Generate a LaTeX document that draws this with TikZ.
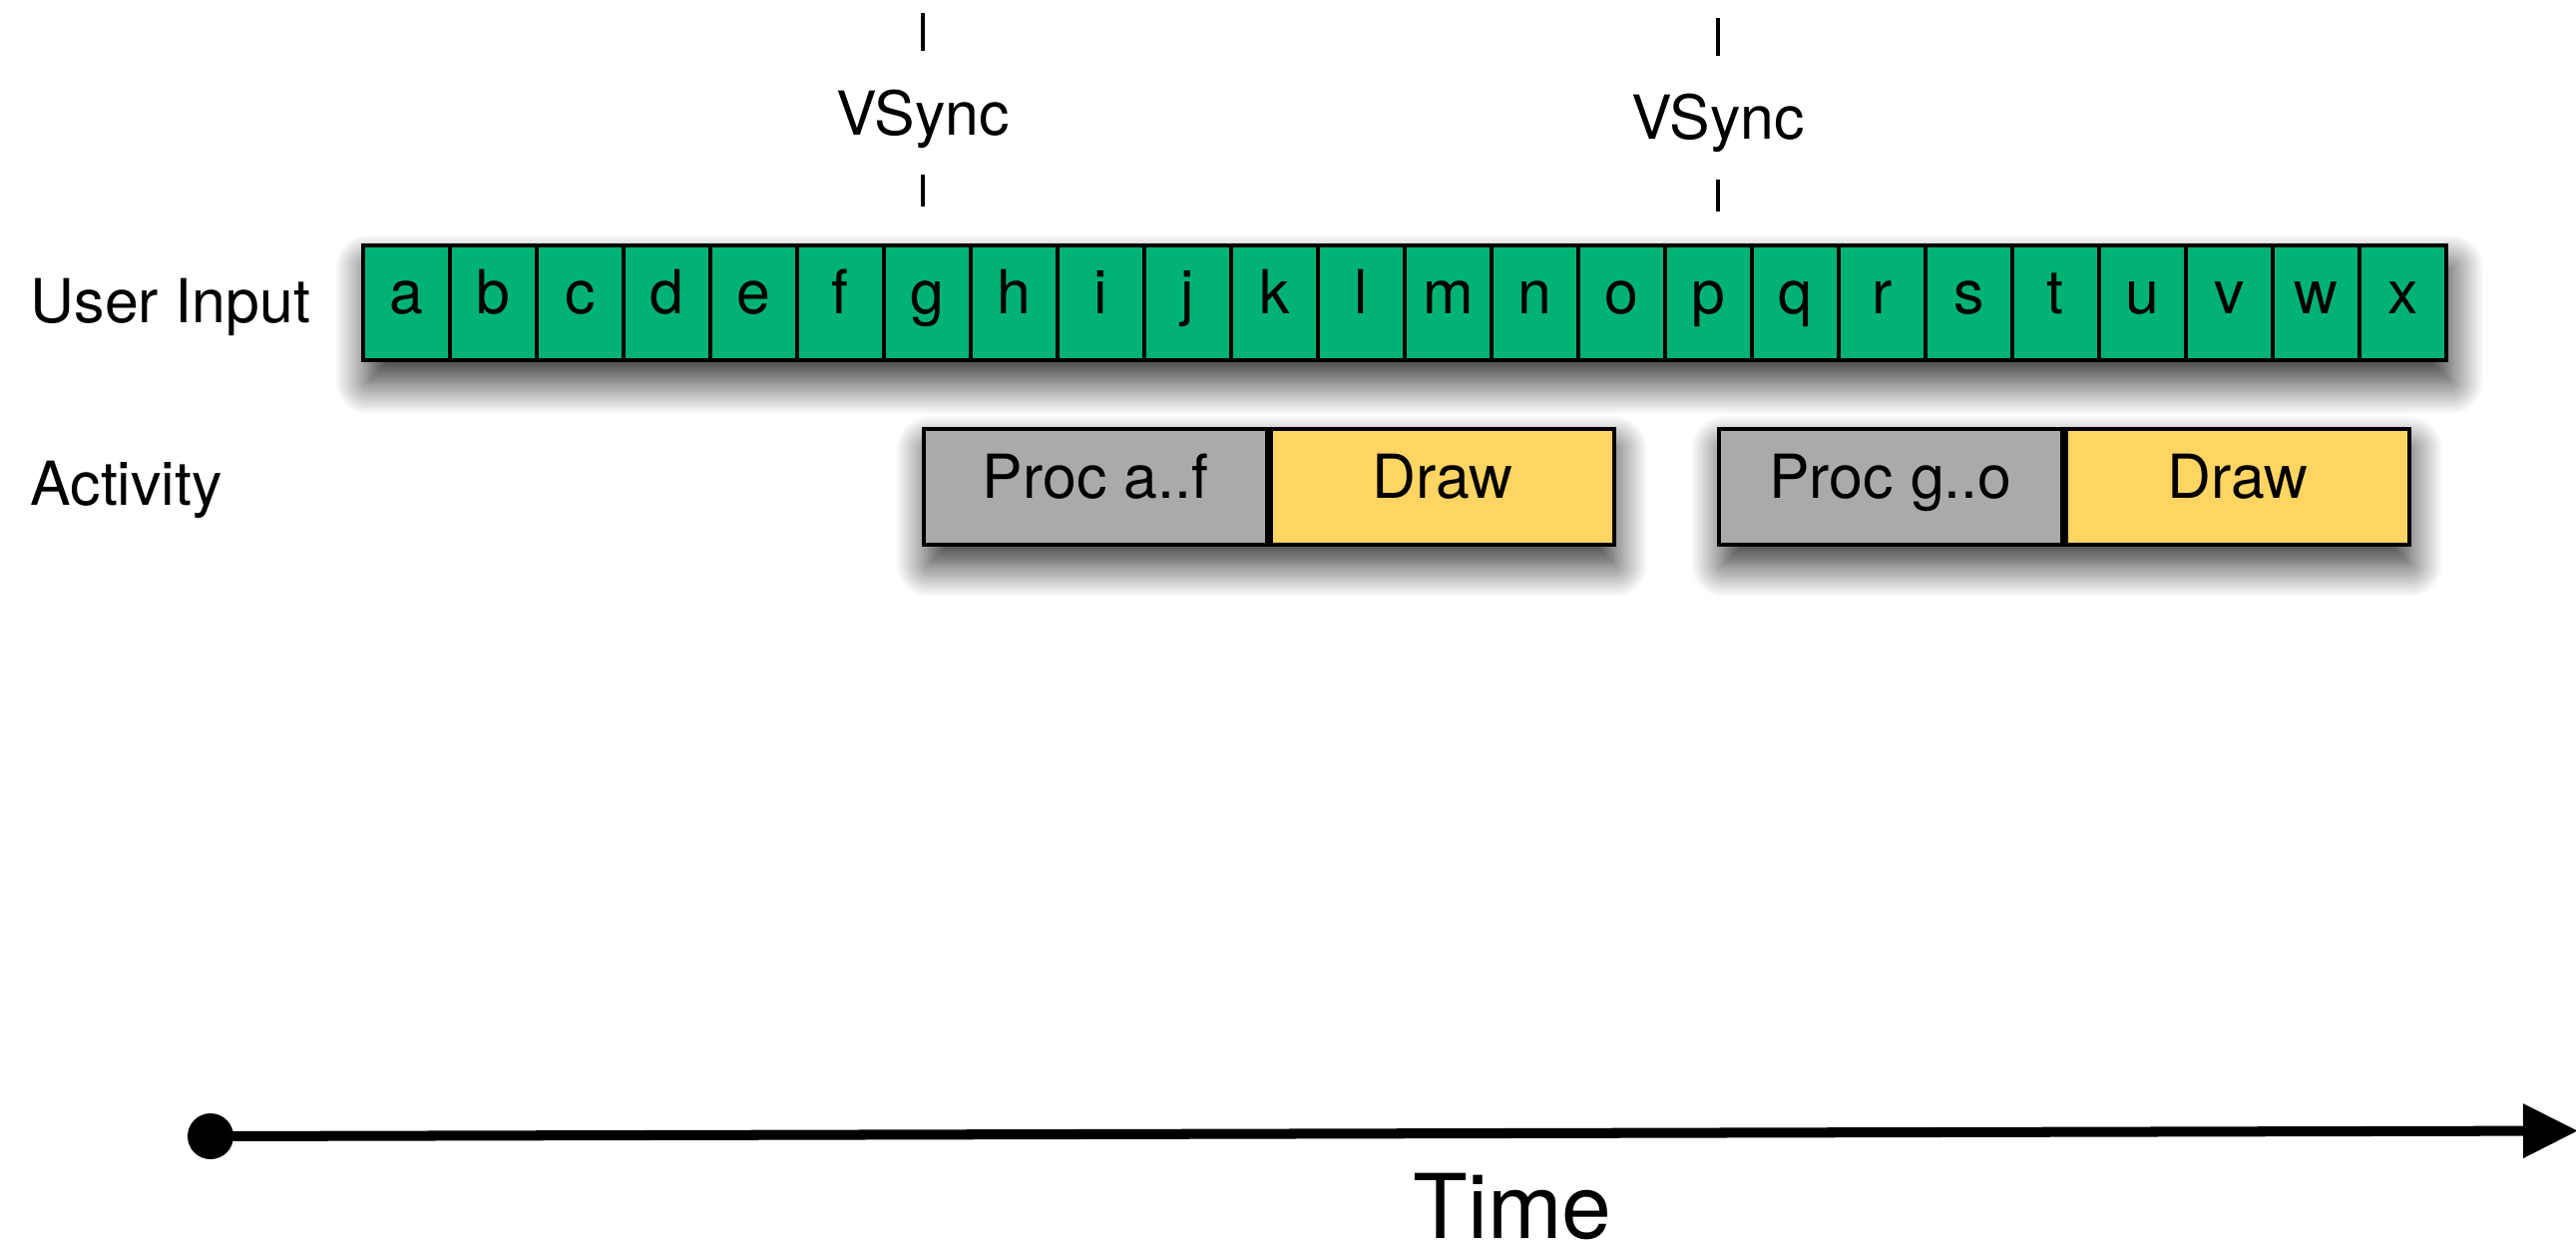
\documentclass[tikz,border=0pt]{standalone}
\usepackage{fontspec}
\setmainfont{TeX Gyre Heros}
\usetikzlibrary{positioning, arrows.meta, shadows.blur}
\definecolor{inputgreen}{RGB}{0,178,115}
\definecolor{procgray}{RGB}{170,170,170}
\definecolor{drawyellow}{RGB}{254,213,98}

\begin{document}
\begin{tikzpicture}[>=stealth,
  every node/.style={font=\fontsize{17.3}{20}\selectfont, inner sep=0pt},
  soft/.style={blur shadow={shadow xshift=0.06cm, shadow yshift=-0.21cm,
      shadow blur radius=0.33cm, shadow blur steps=24, shadow opacity=85}},
  cell/.style={draw, line width=1.1pt, fill=inputgreen, minimum width=0.87cm,
      minimum height=1.15cm, text height=0.72em, text depth=0.08em},
  task/.style={draw, line width=1.1pt, minimum width=3.44cm, minimum height=1.16cm,
      text height=0.72em, text depth=0.08em},
  tick/.style={line width=1pt}]
  \useasboundingbox (0,0) rectangle (25.82,-12.52);

  % vsync marks
  \foreach \x/\d [count=\k] in {9.25/0, 17.22/0.045} {
    \node[anchor=base] (vs\k) at (\x,{-1.35-\d}) {VSync};
    \draw[tick] (\x,{-0.13-\d}) -- (\x,{-0.51-\d});
    \draw[tick] (\x,{-1.75-\d}) -- (\x,{-2.07-\d});
  }

  % input row: shadow frame first, letter cells on top
  \node[soft, fill=inputgreen, minimum width=20.88cm, minimum height=1.15cm,
        anchor=north west] (inrow) at (3.62,-2.46) {};
  \foreach \c [count=\i from 0] in {a,...,x}
    \node[cell, anchor=west] (in-\c) at ({3.62+0.87*\i},-3.035) {\c};
  \node[anchor=base west] (userlbl) at (0.30,-3.23) {User Input};

  % activity: process then draw, starting at each vsync
  \node[anchor=base west] (actlbl) at (0.30,-5.06) {Activity};
  \node[soft, fill=procgray, minimum width=6.88cm, minimum height=1.16cm,
        anchor=north west] (frame1) at (9.24,-4.28) {};
  \node[task, fill=procgray, anchor=north west] (proc1) at (9.24,-4.28) {Proc a..f};
  \node[task, fill=drawyellow, anchor=west] (draw1) at (proc1.east) {Draw};
  \node[soft, fill=procgray, minimum width=6.88cm, minimum height=1.16cm,
        anchor=north west] (frame2) at (17.21,-4.28) {};
  \node[task, fill=procgray, anchor=north west] (proc2) at (17.21,-4.28) {Proc g..o};
  \node[task, fill=drawyellow, anchor=west] (draw2) at (proc2.east) {Draw};

  % time axis
  \node[circle, fill, minimum size=0.46cm] (t0) at (2.11,-11.39) {};
  \coordinate (tend) at (25.84,-11.335);
  \draw[line width=2.85pt, -{Triangle[length=0.55cm, width=0.52cm]}] (t0.center) -- (tend);
  \node[font=\fontsize{25.5}{28}\selectfont, anchor=base] (timelbl) at (15.16,-12.41) {Time};
\end{tikzpicture}
\end{document}
